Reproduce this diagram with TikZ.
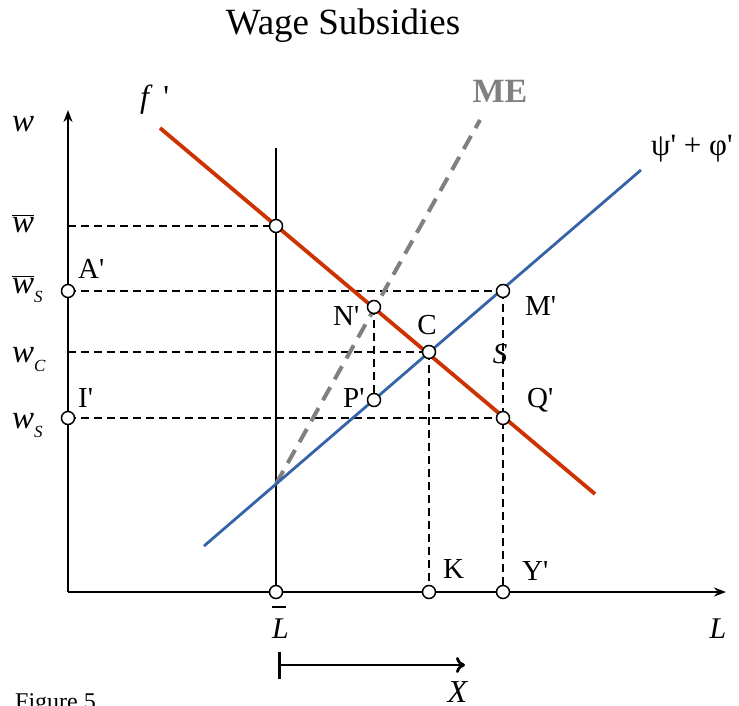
\documentclass[tikz,border=0pt]{standalone}
\usepackage{fontspec}
\setmainfont{Liberation Serif}[Ligatures=TeXOff]
\usetikzlibrary{arrows.meta}
\definecolor{fred}{HTML}{CC3300}
\definecolor{sblue}{HTML}{3563A9}
\definecolor{megray}{HTML}{808080}
\tikzset{
  axis/.style={line width=2.5pt,-{Stealth[length=12pt,width=9pt]}},
  guide/.style={line width=1.6pt,dash pattern=on 8pt off 5pt},
  fcurve/.style={line width=3.8pt,fred},
  scurve/.style={line width=2.8pt,sblue},
  mecurve/.style={line width=4pt,megray,dash pattern=on 15pt off 9pt},
  pt/.style={circle,draw,fill=white,line width=1.5pt,minimum size=13pt,inner sep=0pt},
  lab/.style={font=\fontsize{29}{32}\selectfont,inner sep=0pt,anchor=base west},
  wlab/.style={font=\fontsize{33}{36}\selectfont,inner sep=0pt,anchor=base west},
  big/.style={font=\fontsize{30}{34}\selectfont,inner sep=0pt,anchor=base},
}
\newcommand{\subS}[1]{\raisebox{-9pt}{\fontsize{17}{18}\selectfont\textit{#1}}}
\newcommand{\wbar}{$\overline{\hbox{\textit{w}}}$}
\begin{document}
\begin{tikzpicture}[x=1pt,y=-1pt]
\useasboundingbox[fill=white] (0,0) rectangle (739,706);
% coordinates
\coordinate (O) at (68,592);
\coordinate (Ytop) at (68,110);
\coordinate (Xend) at (726,592);
\coordinate (Lb) at (276,592);
\coordinate (Lbtop) at (276,148);
\coordinate (wb) at (68,226);
\coordinate (Wb) at (276,226);
\coordinate (A) at (68,291);
\coordinate (M) at (503,291);
\coordinate (wc) at (68,352);
\coordinate (C) at (429,352);
\coordinate (I) at (68,418);
\coordinate (Q) at (503,418);
\coordinate (N) at (374,307);
\coordinate (P) at (374,400);
\coordinate (K) at (429,592);
\coordinate (Y) at (503,592);
\coordinate (R1) at (160,128);
\coordinate (R2) at (595,494);
\coordinate (B1) at (204,546);
\coordinate (B2) at (641,170);
\coordinate (E1) at (276,484);
\coordinate (E2) at (480,120);
\coordinate (XA) at (278,665);
\coordinate (XB) at (465,665);
% title
\node[font=\fontsize{37}{40}\selectfont,inner sep=0pt,anchor=base] (title) at (343,35) {Wage Subsidies};
% guides
\draw[guide] (wb) -- (Wb);
\draw[guide] (A) -- (M);
\draw[guide] (wc) -- (C);
\draw[guide] (I) -- (Q);
\draw[guide] (N) -- (P);
\draw[guide] (C) -- (K);
\draw[guide] (M) -- (Y);
% Lbar vertical
\draw[line width=2.2pt] (Lb) -- (Lbtop);
% curves
\draw[mecurve] (E1) -- (E2);
\draw[scurve] (B1) -- (B2);
\draw[fcurve] (R1) -- (R2);
% axes
\draw[axis] (O) -- (Ytop);
\draw[axis] (O) -- (Xend);
% X arrow
\draw[line width=2.8pt,{Bar[width=27pt]}-{To[length=9pt,width=16pt]}] (XA) -- (XB);
% points
\foreach \p in {Wb,A,M,C,I,Q,N,P,K,Y,Lb}{\node[pt] (pt-\p) at (\p) {};}
% labels
\node[wlab] (lw) at (12,132) {\textit{w}};
\node[wlab] (lwb) at (12,232) {\wbar};
\node[wlab] (lwbs) at (12,293) {\wbar\subS{S}};
\node[wlab] (lwc) at (12,362) {\textit{w}\subS{C}};
\node[wlab] (lws) at (12,428) {\textit{w}\subS{S}};
\node[font=\fontsize{32}{34}\selectfont,inner sep=0pt,anchor=base west] (lf) at (140,108) {\textit{f}\,\,'};
\node[font=\fontsize{34}{36}\selectfont\bfseries,text=megray,inner sep=0pt,anchor=base] (lme) at (500,103) {ME};
\node[font=\fontsize{31}{34}\selectfont,inner sep=0pt,anchor=base west] (lpsi) at (651,156) {ψ' + φ'};
\node[lab] (lA) at (78,278) {A'};
\node[lab] (lI) at (78,407) {I'};
\node[lab] (lN) at (333,325) {N'};
\node[lab,anchor=base] (lC) at (427,334) {C};
\node[lab] (lM) at (525,315) {M'};
\node[lab,anchor=base] (lS) at (500,363) {\textit{S}};
\node[lab] (lP) at (343,407) {P'};
\node[lab] (lQ) at (527,407) {Q'};
\node[lab] (lK) at (443,578) {K};
\node[lab] (lY) at (522,580) {Y'};
\node[big,anchor=base west] (lL) at (272,638) {\textit{L}\llap{\raisebox{30pt}{\rule{14pt}{2pt}}\hspace{3pt}}};
\node[big] (lLL) at (718,638) {\textit{L}};
\node[font=\fontsize{32}{34}\selectfont,inner sep=0pt,anchor=base] (lX) at (458,702) {\textit{X}};
\node[font=\fontsize{24}{26}\selectfont,anchor=base west,inner sep=0pt] (fig) at (15,709) {Figure 5.};
\end{tikzpicture}
\end{document}
